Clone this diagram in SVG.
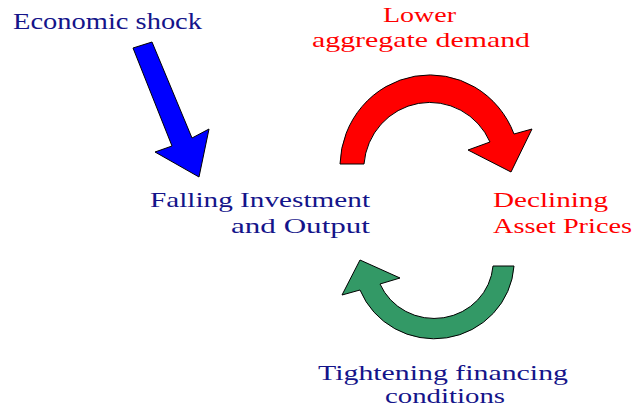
<svg xmlns="http://www.w3.org/2000/svg" width="636" height="419" viewBox="0 0 636 419">
<style>
text{font-family:"Liberation Serif","Times New Roman",serif;font-size:22px}
.navy{fill:#14148a}
.red{fill:#ff0000}
.arrow{stroke:#000;stroke-width:1;stroke-linejoin:miter}
</style>
<rect width="636" height="419" fill="#fff"/>
<g id="connectors">
<path id="shock-arrow" class="arrow" fill="#0000ff" d="M133,48 L152,42 L192,138 L209,129 L199,177 L155,152 L172,146 Z"/>
<path id="red-arrow" class="arrow" fill="#ff0000" d="M340,164 A90,92 0 0 1 514,134 L532,129 L511,172 L468,150 L490,142 A66,67 0 0 0 364,164 Z"/>
<path id="green-arrow" class="arrow" fill="#339966" d="M514,266 A80,78 0 0 1 360,290 L342,295 L360,260 L400,278 L380,284 A59,57 0 0 0 493,266 Z"/>
</g>
<g id="economic-shock">
<text class="navy" x="13" y="29" textLength="189" lengthAdjust="spacingAndGlyphs" style="font-size:24px">Economic shock</text>
</g>
<g id="lower-demand">
<text class="red" x="383" y="22" textLength="73" lengthAdjust="spacingAndGlyphs">Lower</text>
<text class="red" x="312" y="47" textLength="218" lengthAdjust="spacingAndGlyphs">aggregate demand</text>
</g>
<g id="falling-investment">
<text class="navy" x="150" y="207" textLength="220" lengthAdjust="spacingAndGlyphs">Falling Investment</text>
<text class="navy" x="231" y="233" textLength="139" lengthAdjust="spacingAndGlyphs">and Output</text>
</g>
<g id="declining-prices">
<text class="red" x="493" y="207" textLength="115" lengthAdjust="spacingAndGlyphs">Declining</text>
<text class="red" x="493" y="233" textLength="139" lengthAdjust="spacingAndGlyphs">Asset Prices</text>
</g>
<g id="tightening">
<text class="navy" x="318" y="380" textLength="250" lengthAdjust="spacingAndGlyphs">Tightening financing</text>
<text class="navy" x="385" y="403" textLength="120" lengthAdjust="spacingAndGlyphs">conditions</text>
</g>
</svg>
